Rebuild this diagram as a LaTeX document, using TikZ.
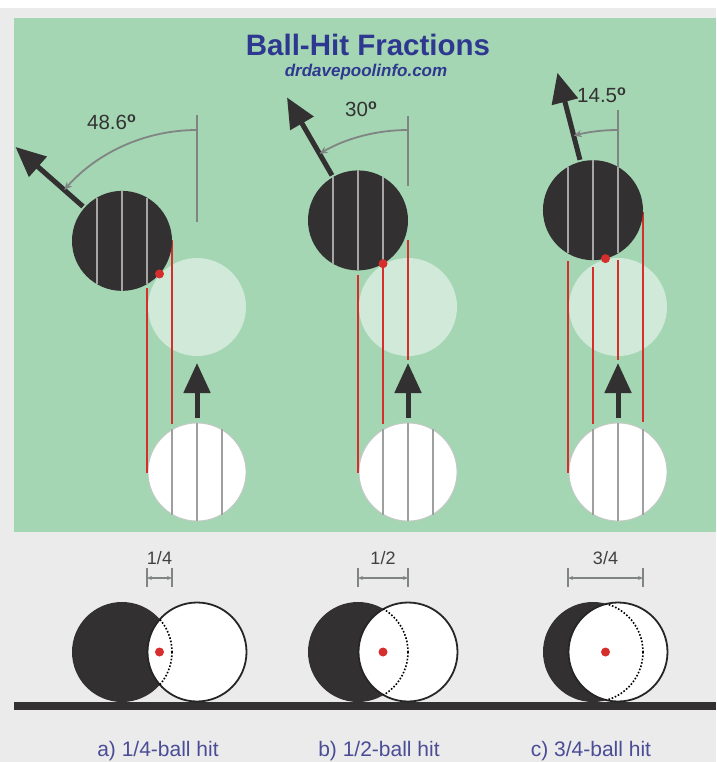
\documentclass[tikz,border=0pt]{standalone}
\usepackage{fontspec}
\setmainfont{Liberation Sans}
\usepackage{tikz}
\usetikzlibrary{arrows.meta}
\usepackage{xcolor}
\definecolor{felt}{RGB}{164,214,179}
\definecolor{ghostfill}{RGB}{208,233,216}
\definecolor{objblack}{RGB}{50,48,49}
\definecolor{aimred}{RGB}{214,45,45}
\definecolor{guidegray}{RGB}{128,132,130}
\definecolor{panelgray}{RGB}{235,235,235}
\definecolor{titleblue}{RGB}{46,56,144}
\definecolor{captionblue}{RGB}{74,76,150}

\begin{document}
\begin{tikzpicture}[x=1pt, y=-1pt,
  ghostball/.style={fill=ghostfill},
  cueball/.style={fill=white, draw=gray!45, line width=0.8},
  cuestripe/.style={draw=gray!75, line width=1.8},
  objstripe/.style={draw=gray!70, line width=1.8},
  aimline/.style={draw=aimred, line width=2},
  travel/.style={draw=objblack, line width=5, -{Triangle[length=30pt,width=26pt]}},
  guideline/.style={draw=guidegray, line width=1.8},
  anglearc/.style={guideline, -{Stealth[length=8pt,width=7pt]}},
  anglelabel/.style={anchor=base west, inner sep=0, text=black!80, font=\fontsize{20.5}{22}\selectfont},
  frontball/.style={fill=white, draw=black!85, line width=1.8},
  hiddenedge/.style={draw=black, line width=1.6, dash pattern=on 1.6pt off 1.8pt},
  dimline/.style={draw=guidegray, line width=1.2, {Stealth[length=5pt,width=4pt]}-{Stealth[length=5pt,width=4pt]}},
  fraclabel/.style={anchor=base, inner sep=0, text=black!75, font=\fontsize{18}{20}\selectfont},
  hitcaption/.style={anchor=base, inner sep=0, text=captionblue, font=\fontsize{21}{24}\selectfont}]
  \useasboundingbox (0,0) rectangle (716,762);

  % Background
  \fill[panelgray] (0,0) rectangle (716,762);
  \fill[white] (0,0) rectangle (716,8);
  \fill[felt] (14,18) rectangle (716,532);
  \fill[objblack] (14,702) rectangle (716,710);

  % Title
  \node[anchor=base, inner sep=0, text=titleblue, font=\fontsize{29.5}{32}\selectfont\bfseries] (title) at (368,56) {Ball-Hit Fractions};
  \node[anchor=base, inner sep=0, text=titleblue, font=\fontsize{17}{20}\selectfont\bfseries\itshape] (site) at (366,77) {drdavepoolinfo.com};

  % Panel a: 48.6 deg
  \coordinate (G1) at (197,307);
  \coordinate (C1) at (197,472);
  \path (G1) ++(221.4:100) coordinate (B1);
  \path (G1) ++(221.4:50) coordinate (T1);
  \fill[ghostball] (G1) circle (49);
  \draw[cueball] (C1) circle (49);
  \foreach \dx/\h in {-25/43.3, 0/49, 25/43.3}
    \draw[cuestripe] (C1) ++(\dx,-\h) -- ++(0,2*\h);
  \draw[aimline] (147,288) -- (147,473);
  \draw[aimline] (172,240) -- (172,424);
  \fill[objblack] (B1) circle (50);
  \foreach \dx/\h in {-25/43.3, 0/50, 25/43.3}
    \draw[objstripe] (B1) ++(\dx,-\h) -- ++(0,2*\h);
  \fill[aimred] (T1) circle (4.5);
  \draw[travel] (C1) ++(0,-54) -- ++(0,-55);
  \draw[travel] (G1) ++(221.4:152) -- ++(221.4:90);
  \draw[guideline] (197,115) -- (197,222);
  \draw[anglearc] (G1) ++(0,-177) arc[start angle=270, end angle=221.4, radius=177];
  \node[anglelabel] (ang1) at (87,130) {48.6\textsuperscript{\textbf{o}}};

  % Panel b: 30 deg
  \coordinate (G2) at (408,307);
  \coordinate (C2) at (408,472);
  \path (G2) ++(240:100) coordinate (B2);
  \path (G2) ++(240:50) coordinate (T2);
  \fill[ghostball] (G2) circle (49);
  \draw[cueball] (C2) circle (49);
  \foreach \dx/\h in {-25/43.3, 0/49, 25/43.3}
    \draw[cuestripe] (C2) ++(\dx,-\h) -- ++(0,2*\h);
  \draw[aimline] (358,275) -- (358,473);
  \draw[aimline] (383,263) -- (383,424);
  \draw[aimline] (408,240) -- (408,360);
  \fill[objblack] (B2) circle (50);
  \foreach \dx/\h in {-25/43.3, 0/50, 25/43.3}
    \draw[objstripe] (B2) ++(\dx,-\h) -- ++(0,2*\h);
  \fill[aimred] (T2) circle (4.5);
  \draw[travel] (C2) ++(0,-54) -- ++(0,-55);
  \draw[travel] (G2) ++(240:152) -- ++(240:90);
  \draw[guideline] (408,116) -- (408,186);
  \draw[anglearc] (G2) ++(0,-177) arc[start angle=270, end angle=240, radius=177];
  \node[anglelabel] (ang2) at (345,117) {30\textsuperscript{\textbf{o}}};

  % Panel c: 14.5 deg
  \coordinate (G3) at (618,307);
  \coordinate (C3) at (618,472);
  \path (G3) ++(255.5:100) coordinate (B3);
  \path (G3) ++(255.5:50) coordinate (T3);
  \fill[ghostball] (G3) circle (49);
  \draw[cueball] (C3) circle (49);
  \foreach \dx/\h in {-25/43.3, 0/49, 25/43.3}
    \draw[cuestripe] (C3) ++(\dx,-\h) -- ++(0,2*\h);
  \draw[aimline] (568,261) -- (568,473);
  \draw[aimline] (593,267) -- (593,424);
  \draw[aimline] (618,260) -- (618,360);
  \draw[aimline] (643,212) -- (643,422);
  \fill[objblack] (B3) circle (50);
  \foreach \dx/\h in {-25/43.3, 0/50, 25/43.3}
    \draw[objstripe] (B3) ++(\dx,-\h) -- ++(0,2*\h);
  \fill[aimred] (T3) circle (4.5);
  \draw[travel] (C3) ++(0,-54) -- ++(0,-55);
  \draw[travel] (G3) ++(255.5:152) -- ++(255.5:90);
  \draw[guideline] (618,110) -- (618,167);
  \draw[anglearc] (G3) ++(0,-177) arc[start angle=270, end angle=255.5, radius=177];
  \node[anglelabel] (ang3) at (577,103) {14.5\textsuperscript{\textbf{o}}};

  % Bottom view a
  \coordinate (P1) at (122,652);
  \coordinate (Q1) at (197,652);
  \fill[objblack] (P1) circle (50);
  \draw[frontball] (Q1) circle (49.5);
  \begin{scope}
    \clip (Q1) circle (49.5);
    \draw[hiddenedge] (P1) circle (50);
  \end{scope}
  \fill[aimred] (159.5,652) circle (4.5);
  \draw[guideline, line width=1.2] (147,568) -- (147,587);
  \draw[guideline, line width=1.2] (172,568) -- (172,587);
  \draw[dimline] (147,578) -- (172,578);
  \node[fraclabel] (frac1) at (159.5,564) {1/4};
  \node[hitcaption] (cap1) at (158,756) {a) 1/4-ball hit};

  % Bottom view b
  \coordinate (P2) at (358,652);
  \coordinate (Q2) at (408,652);
  \fill[objblack] (P2) circle (50);
  \draw[frontball] (Q2) circle (49.5);
  \begin{scope}
    \clip (Q2) circle (49.5);
    \draw[hiddenedge] (P2) circle (50);
  \end{scope}
  \fill[aimred] (383,652) circle (4.5);
  \draw[guideline, line width=1.2] (358,568) -- (358,587);
  \draw[guideline, line width=1.2] (408,568) -- (408,587);
  \draw[dimline] (358,578) -- (408,578);
  \node[fraclabel] (frac2) at (383,564) {1/2};
  \node[hitcaption] (cap2) at (379,756) {b) 1/2-ball hit};

  % Bottom view c
  \coordinate (P3) at (593,652);
  \coordinate (Q3) at (618,652);
  \fill[objblack] (P3) circle (50);
  \draw[frontball] (Q3) circle (49.5);
  \begin{scope}
    \clip (Q3) circle (49.5);
    \draw[hiddenedge] (P3) circle (50);
  \end{scope}
  \fill[aimred] (605.5,652) circle (4.5);
  \draw[guideline, line width=1.2] (568,568) -- (568,587);
  \draw[guideline, line width=1.2] (643,568) -- (643,587);
  \draw[dimline] (568,578) -- (643,578);
  \node[fraclabel] (frac3) at (605.5,564) {3/4};
  \node[hitcaption] (cap3) at (591,756) {c) 3/4-ball hit};
\end{tikzpicture}
\end{document}
